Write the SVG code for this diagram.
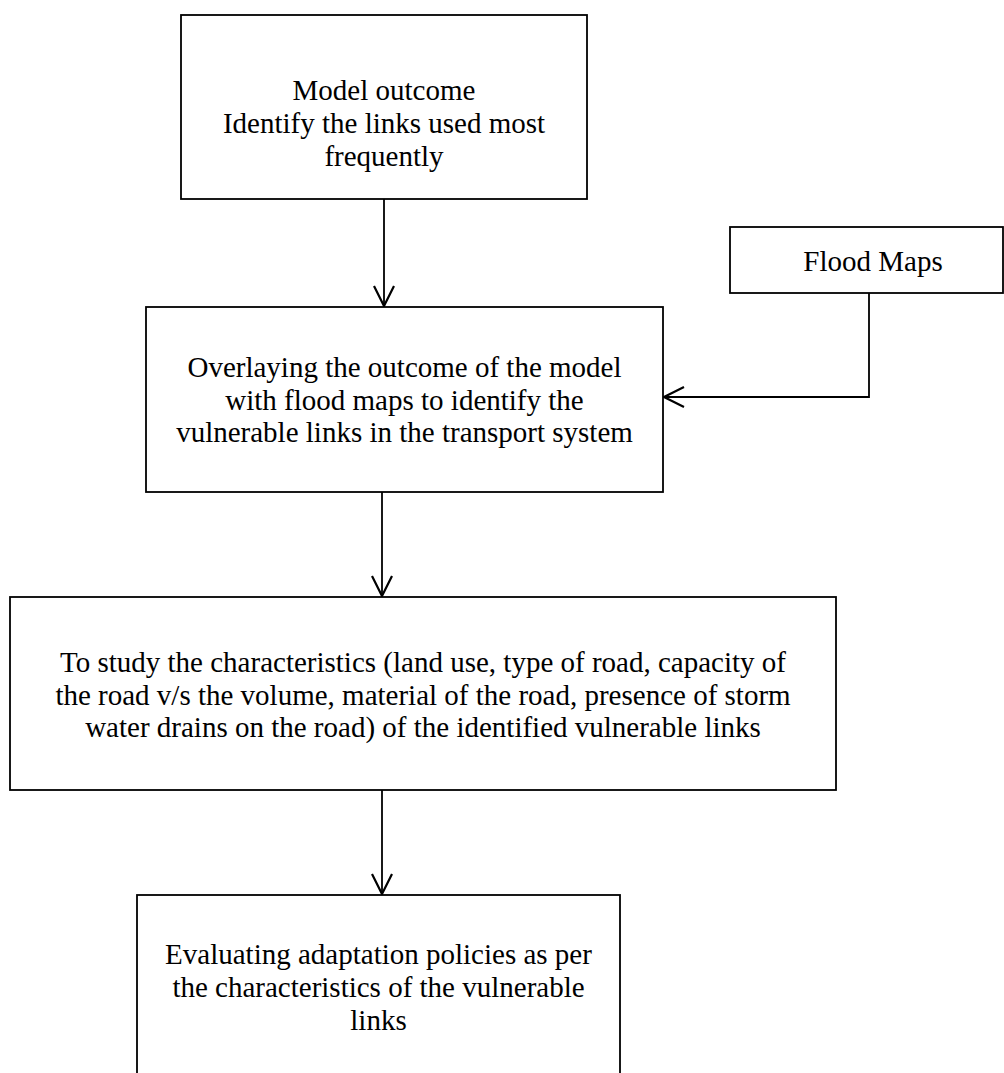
<svg xmlns="http://www.w3.org/2000/svg" width="1004" height="1073" viewBox="0 0 1004 1073">
<style>
.box{fill:#fff;stroke:#000;stroke-width:1.8}
.t{font-family:"Liberation Serif","Times New Roman",serif;font-size:29px;fill:#000;text-anchor:middle}
.c{fill:none;stroke:#000;stroke-width:1.8}
</style>
<defs>
<marker id="ah" viewBox="0 0 24 24" refX="22" refY="12" markerWidth="24" markerHeight="24" markerUnits="userSpaceOnUse" orient="auto">
<path d="M2,2 L22,12 L2,22" fill="none" stroke="#000" stroke-width="2.2"/>
</marker>
</defs>
<rect width="1004" height="1073" fill="#fff"/>
<g id="connectors">
<line class="c" x1="384" y1="199" x2="384" y2="306" marker-end="url(#ah)"/>
<polyline class="c" points="869,293 869,397 664,397" marker-end="url(#ah)"/>
<line class="c" x1="382" y1="492" x2="382" y2="596" marker-end="url(#ah)"/>
<line class="c" x1="382" y1="790" x2="382" y2="894" marker-end="url(#ah)"/>
</g>
<g id="model-outcome">
<rect class="box" x="181" y="15" width="406" height="184"/>
<text class="t" x="384" y="100">Model outcome</text>
<text class="t" x="384" y="133">Identify the links used most</text>
<text class="t" x="384" y="166">frequently</text>
</g>
<g id="flood-maps">
<rect class="box" x="730" y="227" width="273" height="66"/>
<text class="t" x="873" y="271">Flood Maps</text>
</g>
<g id="overlaying">
<rect class="box" x="146" y="307" width="517" height="185"/>
<text class="t" x="404.5" y="377">Overlaying the outcome of the model</text>
<text class="t" x="404.5" y="410">with flood maps to identify the</text>
<text class="t" x="404.5" y="442">vulnerable links in the transport system</text>
</g>
<g id="study">
<rect class="box" x="10" y="597" width="826" height="193"/>
<text class="t" x="423" y="672">To study the characteristics (land use, type of road, capacity of</text>
<text class="t" x="423" y="705">the road v/s the volume, material of the road, presence of storm</text>
<text class="t" x="423" y="737">water drains on the road) of the identified vulnerable links</text>
</g>
<g id="evaluating">
<rect class="box" x="137" y="895" width="483" height="190"/>
<text class="t" x="378.5" y="964">Evaluating adaptation policies as per</text>
<text class="t" x="378.5" y="997">the characteristics of the vulnerable</text>
<text class="t" x="378.5" y="1030">links</text>
</g>
</svg>
